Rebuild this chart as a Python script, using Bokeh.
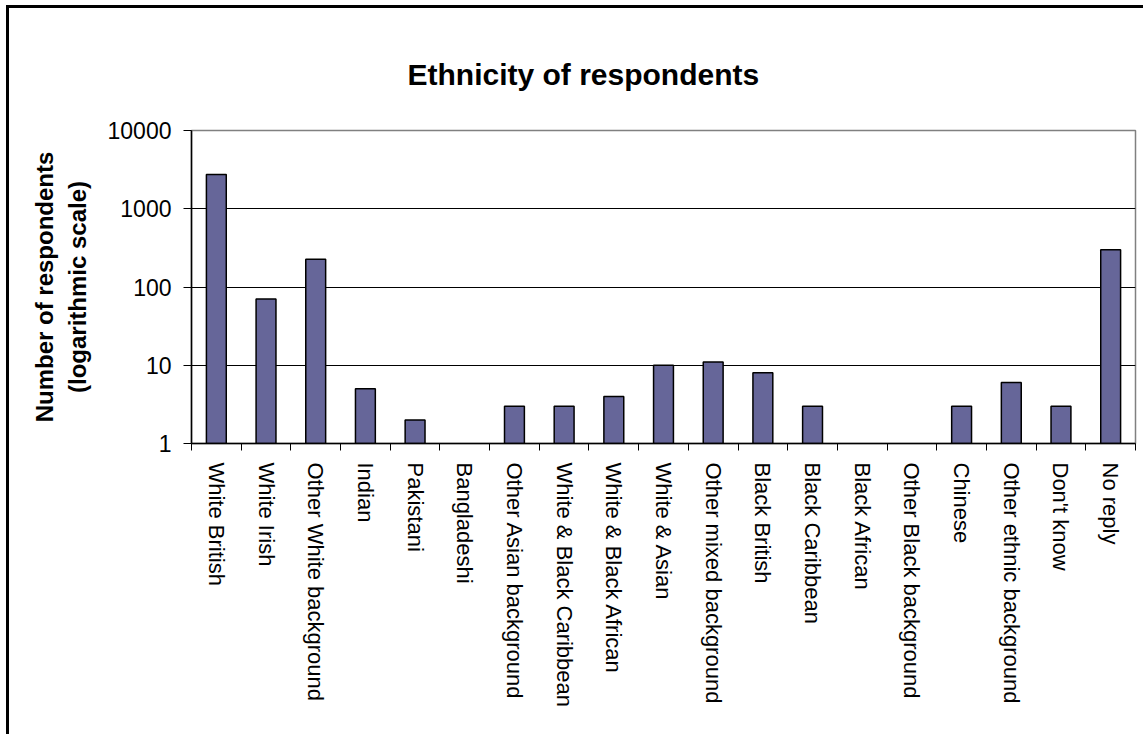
import math
from bokeh.plotting import figure
from bokeh.models import ColumnDataSource, FixedTicker, Range1d, Title
from bokeh.embed import file_html
from bokeh.resources import INLINE

categories = ["White British", "White Irish", "Other White background", "Indian",
              "Pakistani", "Bangladeshi", "Other Asian background",
              "White & Black Caribbean", "White & Black African", "White & Asian",
              "Other mixed background", "Black British", "Black Caribbean",
              "Black African", "Other Black background", "Chinese",
              "Other ethnic background", "Don't know", "No reply"]
respondents = [2730, 70, 226, 5, 2, 0, 3, 3, 4, 10, 11, 8, 3, 0, 0, 3, 6, 3, 300]
y_ticks = [1, 10, 100, 1000, 10000]

FONT = "Liberation Sans"

xs = [i + 0.5 for i, v in enumerate(respondents) if v > 0]
tops = [v for v in respondents if v > 0]
source = ColumnDataSource(data=dict(x=xs, top=tops, bottom=[1] * len(tops)))

p = figure(width=1137, height=729, output_backend="svg", toolbar_location=None,
           y_axis_type="log", x_range=Range1d(0, len(categories)),
           y_range=Range1d(y_ticks[0], y_ticks[-1]),
           min_border_left=182, min_border_right=11, min_border_top=122,
           min_border_bottom=294, background_fill_color="white",
           border_fill_color="white")
p.styles = {"margin-left": "6px", "margin-top": "5px",
            "border-left": "3px solid black", "border-top": "3px solid black"}

t = Title(text="Ethnicity of respondents", align="left", offset=216,
          text_font=FONT, text_font_size="30px", text_font_style="bold",
          text_color="black", standoff=80)
p.add_layout(t, "above")

p.vbar(x="x", top="top", bottom="bottom", width=0.4, source=source,
       fill_color="#666699", line_color="black", line_width=1.5)

p.outline_line_color = "#808080"
p.outline_line_width = 1.5

# x axis
p.xaxis.ticker = FixedTicker(ticks=[i + 0.5 for i in range(len(categories))],
                             minor_ticks=list(range(len(categories) + 1)))
p.xaxis.major_label_overrides = {i + 0.5: c for i, c in enumerate(categories)}
p.xaxis.major_label_orientation = -math.pi / 2
p.xaxis.major_tick_line_color = None
p.xaxis.minor_tick_in = 0
p.xaxis.minor_tick_out = 7
p.xaxis.minor_tick_line_color = "black"
p.xaxis.axis_line_color = "black"
p.xaxis.axis_line_width = 1.5
p.xaxis.major_label_text_font = FONT
p.xaxis.major_label_text_font_size = "22px"
p.xaxis.major_label_text_color = "black"
p.xaxis.major_label_standoff = 12
p.xgrid.grid_line_color = None

# y axis
p.yaxis.ticker = FixedTicker(ticks=y_ticks, minor_ticks=[])
p.yaxis.major_label_overrides = {v: str(v) for v in y_ticks}
p.yaxis.major_tick_in = 0
p.yaxis.major_tick_out = 8
p.yaxis.major_tick_line_color = "black"
p.yaxis.minor_tick_line_color = None
p.yaxis.axis_line_color = "black"
p.yaxis.axis_line_width = 1.5
p.yaxis.major_label_text_font = FONT
p.yaxis.major_label_text_font_size = "23px"
p.yaxis.major_label_text_color = "black"
p.yaxis.major_label_standoff = 12
p.yaxis.axis_label = "Number of respondents\n(logarithmic scale)"
p.yaxis.axis_label_text_font = FONT
p.yaxis.axis_label_text_font_size = "24px"
p.yaxis.axis_label_text_font_style = "bold"
p.yaxis.axis_label_text_color = "black"
p.yaxis.axis_label_standoff = 14
p.ygrid.grid_line_color = "black"
p.ygrid.grid_line_width = 1.2

open("out.html", "w").write(file_html(p, INLINE))
